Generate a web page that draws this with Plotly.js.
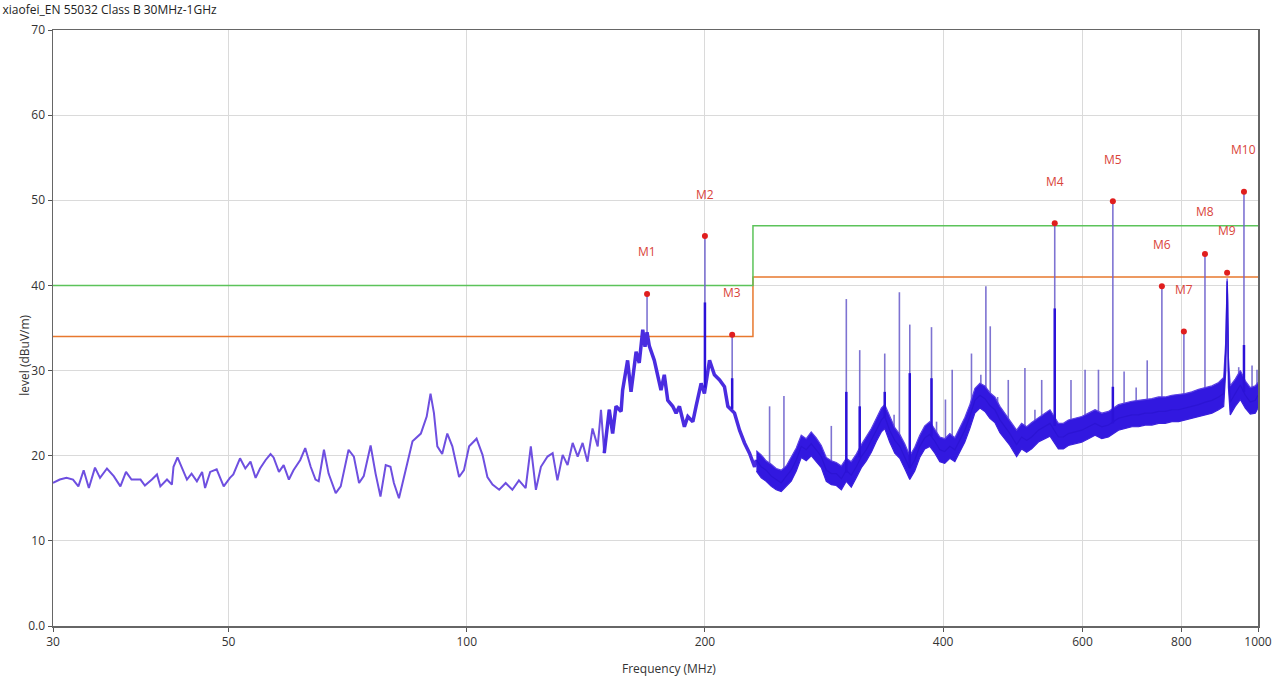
<!DOCTYPE html>
<html>
<head>
<meta charset="utf-8">
<script src="https://cdn.plot.ly/plotly-3.0.1.min.js"></script>
<style>
  html, body { margin: 0; padding: 0; background: #ffffff; }
  #chart { width: 1284px; height: 680px; }
</style>
</head>
<body>
<div id="chart"></div>
<script>
// ---------- data ----------
// low-frequency scan (30 - 150 MHz)
const lowFreq = [30.0,30.6,31.2,31.8,32.3,32.8,33.3,33.9,34.4,35.1,35.8,36.5,37.1,37.7,38.7,39.2,40.0,40.6,41.0,41.8,42.4,42.6,43.1,43.7,44.3,44.9,45.6,46.3,46.7,47.4,48.3,49.3,50.2,50.7,51.7,52.5,53.3,54.1,54.8,55.7,56.5,57.0,57.9,58.7,59.6,60.4,61.6,62.5,63.5,64.4,65.0,66.0,66.9,68.3,69.3,70.9,72.0,73.1,74.1,75.6,76.7,77.8,79.0,80.1,80.9,82.1,83.3,85.4,87.5,89.0,90.0,90.9,91.8,93.1,94.5,95.9,97.8,99.2,100.7,102.9,104.7,106.2,107.8,109.9,112.0,114.2,116.4,118.7,120.5,122.3,124.1,126.5,128.4,130.2,132.2,134.1,136.1,138.1,140.1,142.1,144.2,146.4,147.8,149.2,151.4];
const lowLevel = [16.8,17.2,17.4,17.2,16.4,18.3,16.2,18.6,17.4,18.5,17.6,16.4,18.1,17.2,17.2,16.5,17.2,17.8,16.4,17.2,16.6,18.7,19.8,18.5,17.2,17.9,17.0,18.1,16.2,18.1,18.4,16.4,17.4,17.8,19.7,18.5,19.3,17.4,18.5,19.5,20.2,19.8,18.1,18.9,17.2,18.3,19.5,20.9,18.7,17.2,17.0,20.7,17.9,15.6,16.4,20.7,19.9,16.8,17.6,21.2,17.9,15.2,18.9,18.7,16.8,15.0,17.6,21.7,22.6,24.6,27.3,25.0,21.1,20.2,22.6,21.1,17.5,18.3,21.1,22.0,20.1,17.5,16.6,16.0,16.8,16.0,17.1,16.2,21.1,16.0,18.7,19.9,20.3,17.1,20.1,18.9,21.5,19.9,21.5,19.3,23.2,21.1,25.4,20.3,25.4];

// mid scan (150 - 232 MHz)
const midFreq = [149.2,151.4,152.9,154.4,156.7,157.4,159.7,161.3,163.7,165.2,166.9,168.0,169.0,170.1,172.6,176.0,177.7,179.5,182.1,183.9,185.7,188.4,190.3,193.1,194.9,197.8,199.7,202.7,205.6,208.7,211.7,213.8,218.0,221.2,224.4,227.7,231.1,232.3];
const midLevel = [20.3,25.4,22.6,25.8,25.2,27.7,31.2,27.5,32.2,30.9,34.8,32.8,34.5,32.9,31.2,27.7,29.5,26.5,25.8,25.0,25.8,23.4,24.6,24.0,25.8,28.5,27.3,31.2,29.5,28.9,28.1,25.8,25.0,23.0,21.5,20.3,18.7,19.5];

// high scan (232 MHz - 1 GHz): band centre, upper and lower edge
const highFreq = [232.3,235.6,239.0,242.6,246.1,249.7,253.4,257.1,260.9,264.7,268.6,272.5,276.5,280.6,284.7,288.9,293.1,297.5,301.8,306.2,310.7,315.3,319.9,324.6,329.4,334.2,337.5,342.4,347.5,352.6,357.7,363.0,368.3,373.7,379.2,384.8,390.5,396.2,401.9,407.9,413.9,419.9,426.1,432.3,438.7,445.2,451.7,458.3,465.0,471.9,478.8,485.8,495.4,502.6,510.1,517.6,527.8,538.0,545.9,559.4,567.6,575.9,587.2,598.8,610.6,622.4,634.7,647.2,666.3,679.4,692.8,706.5,720.1,734.4,748.9,763.4,778.3,793.6,809.0,824.9,841.2,857.7,874.6,891.7,905.0,910.5,912.5,914.0,915.5,917.5,922.4,935.9,949.8,963.7,977.8,992.1,1000.0];
const highLevel = [19.5,18.7,18.3,17.6,17.2,16.8,17.6,18.3,19.5,21.1,20.7,21.4,20.7,19.9,18.3,17.9,17.9,17.3,18.3,17.7,18.7,19.9,20.7,21.8,23.0,24.2,24.6,23.0,21.8,21.1,19.9,18.5,19.5,21.1,22.1,22.5,21.7,20.7,20.5,21.1,20.7,21.8,23.0,24.6,26.5,27.1,26.7,25.9,25.4,24.2,23.4,22.6,21.3,22.2,21.8,22.2,23.0,23.4,23.8,22.2,22.2,22.6,22.8,23.0,23.4,23.8,23.4,23.6,24.4,24.6,24.8,24.8,25.0,25.0,25.2,25.2,25.4,25.4,25.6,25.8,26.0,26.3,26.5,26.9,27.3,32.5,38.5,40.5,38.0,30.0,26.3,27.3,28.3,27.1,26.3,26.5,27.1];
const highUpper = [20.6,20.1,19.4,19.0,18.5,18.3,18.8,19.8,20.9,22.4,22.0,22.8,22.1,21.2,19.8,19.4,19.2,18.8,19.7,19.3,20.2,21.3,22.2,23.2,24.4,25.6,26.0,24.6,23.3,22.5,21.4,20.0,21.0,22.4,23.5,24.0,23.1,22.2,22.0,22.6,22.1,23.3,24.5,26.0,27.9,28.5,28.2,27.4,26.9,25.8,25.0,24.2,23.0,23.8,23.4,23.9,24.5,25.0,25.4,23.8,23.8,24.2,24.4,24.6,25.0,25.4,25.0,25.2,26.0,26.2,26.4,26.5,26.6,26.7,26.9,26.9,27.1,27.2,27.3,27.5,27.8,28.0,28.2,28.6,29.2,33.5,39.5,40.8,39.0,31.5,28.2,29.0,30.0,28.8,28.0,28.2,28.6];
const highLower = [18.2,17.4,17.0,16.4,16.0,15.8,16.4,17.0,18.2,19.8,19.4,20.0,19.3,18.6,17.0,16.6,16.5,16.0,17.0,16.3,17.4,18.6,19.4,20.4,21.7,22.8,23.2,21.6,20.3,19.7,18.5,17.2,18.2,19.8,20.8,21.1,20.3,19.3,19.1,19.7,19.3,20.4,21.6,23.2,25.0,25.6,25.2,24.4,23.9,22.7,21.9,21.2,19.9,20.8,20.4,20.8,21.6,22.0,22.3,20.8,20.8,21.2,21.4,21.6,22.0,22.4,22.0,22.2,23.0,23.2,23.4,23.4,23.6,23.6,23.8,23.8,24.0,24.0,24.2,24.4,24.6,24.8,25.0,25.4,25.8,30.0,35.0,38.0,35.0,28.0,24.8,25.8,26.6,25.6,24.9,25.0,25.6];

// narrow-band spikes: frequency, top level, foot level
const spikeFreq = [169.0,200.0,216.5,241.4,251.7,288.9,301.8,313.8,337.5,346.8,352.2,363.0,386.7,392.4,402.7,410.7,434.4,446.4,453.0,458.8,468.7,483.5,507.5,522.5,532.9,553.5,580.3,604.6,628.6,655.5,677.3,701.5,724.4,756.0,806.0,857.0,945.4,960.0,982.8,997.1];
const spikeTop  = [39.0,45.8,34.2,25.8,27.0,23.5,38.4,32.4,32.0,24.8,39.2,35.4,35.1,24.0,26.6,30.1,32.0,29.5,39.9,35.2,26.9,28.9,30.3,25.4,28.9,47.3,28.9,30.1,30.1,49.9,29.9,28.0,31.2,39.9,34.6,43.7,30.4,51.0,30.6,30.1];
const spikeFoot = [33.0,28.0,25.5,18.0,17.0,18.0,18.0,19.8,24.5,22.5,21.2,18.6,22.3,21.5,20.5,21.0,25.0,27.0,26.9,25.9,25.0,23.0,22.0,22.2,23.2,23.5,22.7,23.2,23.6,23.8,24.5,24.8,25.0,25.2,25.6,26.3,28.0,27.5,26.5,26.8];

// darker (second trace) part of the strongest spikes
const darkFreq = [200.0,216.5,301.8,313.8,337.5,363.0,386.7,553.5,655.5,960.0];
const darkTop  = [38.0,29.1,27.5,25.8,27.5,29.7,29.1,37.3,28.1,33.0];
const darkFoot = [28.0,25.5,18.0,19.8,24.5,18.6,22.3,23.5,23.8,27.5];

// limit lines
const limitFreq = [30, 230, 1000];
const limitQP   = [40, 47, 47];
const limitWarn = [34, 41, 41];

// markers
const markerNames = ['M1','M2','M3','M4','M5','M6','M7','M8','M9','M10'];
const markerFreq  = [169.0,200.0,216.5,553.5,655.5,756.0,806.0,857.0,914.0,960.0];
const markerLevel = [39.0,45.8,34.2,47.3,49.9,39.9,34.6,43.7,41.5,51.0];

// axis ticks
const xTicks = [30, 50, 100, 200, 400, 600, 800, 1000];
const yTicks = [0, 10, 20, 30, 40, 50, 60, 70];
const yTickText = ['0.0', '10', '20', '30', '40', '50', '60', '70'];

// ---------- build traces ----------
function segments(f, top, foot) {
  const xs = [], ys = [];
  for (let i = 0; i < f.length; i++) {
    xs.push(f[i], f[i], null);
    ys.push(foot[i], top[i], null);
  }
  return {x: xs, y: ys};
}
const sp = segments(spikeFreq, spikeTop, spikeFoot);
const dk = segments(darkFreq, darkTop, darkFoot);

const traces = [
  {x: limitFreq, y: limitWarn, mode: 'lines', line: {color: '#e8782e', width: 1.5, shape: 'hv'}, hoverinfo: 'skip'},
  {x: limitFreq, y: limitQP, mode: 'lines', line: {color: '#5cc35a', width: 1.5, shape: 'hv'}, hoverinfo: 'skip'},
  {x: sp.x, y: sp.y, mode: 'lines', line: {color: 'rgba(112,100,205,0.9)', width: 1.6}, connectgaps: false, hoverinfo: 'skip'},
  {x: lowFreq, y: lowLevel, mode: 'lines', line: {color: '#6e4fe0', width: 2}},
  {x: midFreq, y: midLevel, mode: 'lines', line: {color: '#4a2ce0', width: 3.5}},
  {x: highFreq, y: highLower, mode: 'lines', line: {color: '#3a20dc', width: 1.2}},
  {x: highFreq, y: highUpper, mode: 'lines', fill: 'tonexty', fillcolor: '#3218e0', line: {color: '#5a40e4', width: 1.2}},
  {x: highFreq, y: highLevel, mode: 'lines', line: {color: '#2c14d4', width: 1.2}},
  {x: dk.x, y: dk.y, mode: 'lines', line: {color: '#2c12d8', width: 2.5}, connectgaps: false, hoverinfo: 'skip'},
  {x: markerFreq, y: markerLevel, mode: 'markers', marker: {color: '#e01e1e', size: 6}}
];

const annotations = markerNames.map((n, i) => ({
  x: Math.log10(markerFreq[i]), y: markerLevel[i], xref: 'x', yref: 'y',
  text: n, showarrow: false, yshift: 42,
  font: {family: 'Open Sans, sans-serif', size: 12, color: '#d9443a'}
}));
annotations.push({
  xref: 'paper', yref: 'paper', x: -0.032, y: 0.455, text: 'level (dBuV/m)',
  textangle: -90, showarrow: false, font: {family: 'Open Sans, sans-serif', size: 12, color: '#333'}
});
annotations.push({
  xref: 'paper', yref: 'paper', x: 0.511, y: -0.072, yanchor: 'middle', text: 'Frequency (MHz)',
  showarrow: false, font: {family: 'Open Sans, sans-serif', size: 12, color: '#333'}
});

const layout = {
  width: 1284, height: 680,
  margin: {l: 53, r: 26, t: 30, b: 54},
  paper_bgcolor: '#ffffff', plot_bgcolor: '#ffffff',
  showlegend: false,
  title: {
    text: 'xiaofei_EN 55032 Class B 30MHz-1GHz',
    x: 0.002, xref: 'container', xanchor: 'left',
    y: 0.985, yref: 'container', yanchor: 'middle',
    font: {family: 'Open Sans, sans-serif', size: 12, color: '#222'}
  },
  xaxis: {
    type: 'log', range: [Math.log10(30), Math.log10(1000)],
    tickvals: xTicks, ticktext: xTicks.map(String),
    showgrid: true, gridcolor: '#dadada', gridwidth: 1,
    ticks: 'outside', ticklen: 4, tickcolor: '#555',
    showline: true, linecolor: '#666', linewidth: 1.5, mirror: true,
    zeroline: false,
    tickfont: {family: 'Open Sans, sans-serif', size: 12, color: '#333'}
  },
  yaxis: {
    range: [0, 70], tickvals: yTicks, ticktext: yTickText,
    showgrid: true, gridcolor: '#dadada', gridwidth: 1,
    ticks: 'outside', ticklen: 4, tickcolor: '#555',
    showline: true, linecolor: '#666', linewidth: 1.5, mirror: true,
    zeroline: false,
    tickfont: {family: 'Open Sans, sans-serif', size: 12, color: '#333'}
  },
  annotations: annotations
};

Plotly.newPlot('chart', traces, layout, {displayModeBar: false, staticPlot: true});
</script>
</body>
</html>
